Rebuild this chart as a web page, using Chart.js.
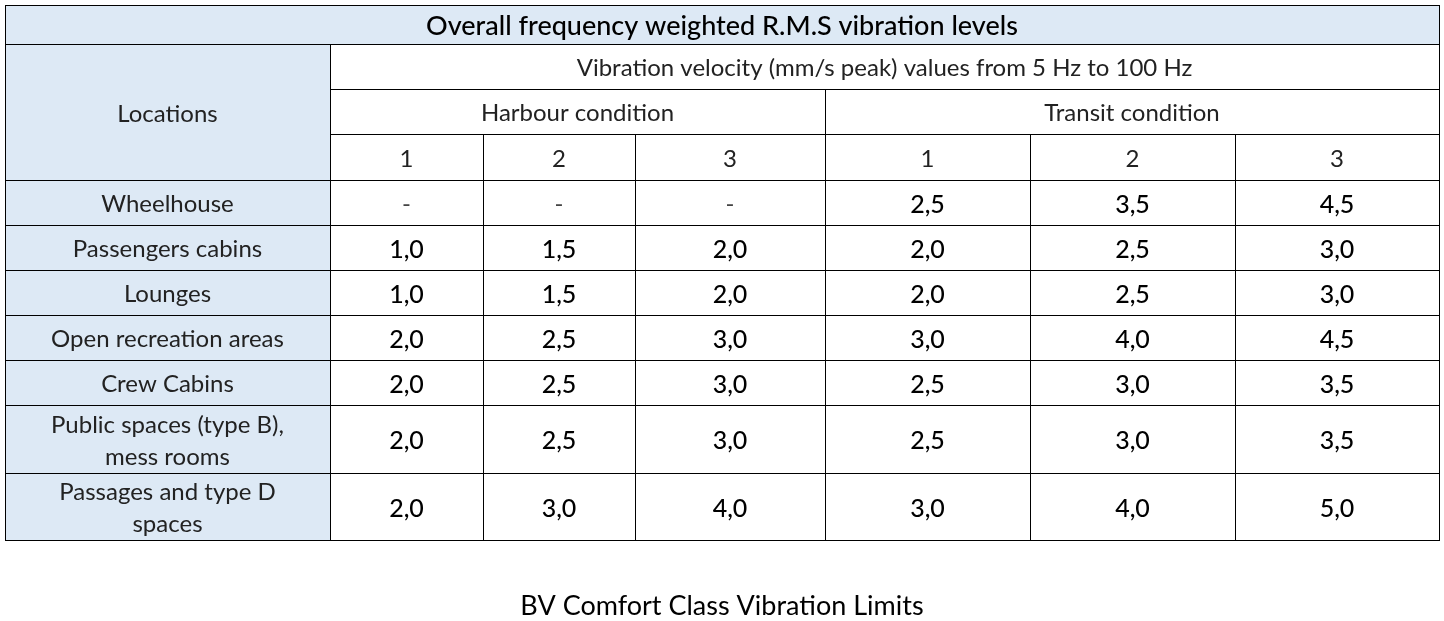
<!DOCTYPE html>
<html>
<head>
<meta charset="utf-8">
<script src="https://cdn.jsdelivr.net/npm/chart.js@4/dist/chart.umd.min.js"></script>
<style>
  body { margin: 0; background: #fff; }
  #wrap { width: 1444px; height: 621px; }
</style>
</head>
<body>
<div id="wrap"><canvas id="table"></canvas></div>
<script>
// data
let tableTitle = "Overall frequency weighted R.M.S vibration levels";
let groupTitle = "Vibration velocity (mm/s peak) values from 5 Hz to 100 Hz";
let conditions = ["Harbour condition", "Transit condition"];
let classes = ["1", "2", "3"];
let locations = ["Wheelhouse", "Passengers cabins", "Lounges", "Open recreation areas", "Crew Cabins",
  "Public spaces (type B),\nmess rooms", "Passages and type D\nspaces"];
let harbour = [
  ["-", "-", "-"],
  ["1,0", "1,5", "2,0"],
  ["1,0", "1,5", "2,0"],
  ["2,0", "2,5", "3,0"],
  ["2,0", "2,5", "3,0"],
  ["2,0", "2,5", "3,0"],
  ["2,0", "3,0", "4,0"]
];
let transit = [
  ["2,5", "3,5", "4,5"],
  ["2,0", "2,5", "3,0"],
  ["2,0", "2,5", "3,0"],
  ["3,0", "4,0", "4,5"],
  ["2,5", "3,0", "3,5"],
  ["2,5", "3,0", "3,5"],
  ["3,0", "4,0", "5,0"]
];
let caption = "BV Comfort Class Vibration Limits";

// layout (grid lines in page units)
let colEdges = [5, 330, 483, 635, 825, 1030, 1235, 1439];
let rowEdges = [5, 44, 89, 134, 180, 225, 270, 315, 360, 405, 473, 540];
let headFill = "#dde9f5";
let font = "Lato, 'Open Sans', sans-serif";

let tablePlugin = {
  id: "tablePlugin",
  afterDraw(chart) {
    let ctx = chart.ctx;
    let sx = chart.scales.x, sy = chart.scales.y;
    let X = i => sx.getPixelForValue(colEdges[i]);
    let Y = i => sy.getPixelForValue(rowEdges[i]);

    function cell(c0, c1, r0, r1, text, opts) {
      opts = opts || {};
      let x0 = X(c0), x1 = X(c1), y0 = Y(r0), y1 = Y(r1);
      if (opts.fill) { ctx.fillStyle = opts.fill; ctx.fillRect(x0, y0, x1 - x0, y1 - y0); }
      ctx.strokeStyle = opts.border || "#000";
      ctx.lineWidth = 1;
      ctx.strokeRect(Math.round(x0) + 0.5, Math.round(y0) + 0.5, Math.round(x1 - x0), Math.round(y1 - y0));
      if (text === undefined) return;
      ctx.fillStyle = opts.color || "#222";
      ctx.font = (opts.weight || "normal") + " " + (opts.size || 24) + "px " + font;
      ctx.textAlign = "center";
      ctx.textBaseline = "middle";
      let lines = text.split("\n");
      let lh = 32;
      let cy = (y0 + y1) / 2 - (lines.length - 1) * lh / 2 + 2;
      lines.forEach((l, k) => ctx.fillText(l, (x0 + x1) / 2, cy + k * lh));
    }

    cell(0, 7, 0, 1, tableTitle, { fill: headFill, color: "#000", size: 27, weight: "500" });
    cell(0, 1, 1, 4, "Locations", { fill: headFill });
    cell(1, 7, 1, 2, groupTitle);
    cell(1, 4, 2, 3, conditions[0]);
    cell(4, 7, 2, 3, conditions[1]);
    for (let j = 0; j < 6; j++) cell(1 + j, 2 + j, 3, 4, classes[j % 3]);
    locations.forEach((loc, r) => {
      cell(0, 1, 4 + r, 5 + r, loc, { fill: headFill });
      let vals = harbour[r].concat(transit[r]);
      vals.forEach((v, j) => cell(1 + j, 2 + j, 4 + r, 5 + r, v,
        v === "-" ? { color: "#444" } : { color: "#000", size: 25, weight: "500" }));
    });

    ctx.fillStyle = "#000";
    ctx.font = "normal 27px " + font;
    ctx.textAlign = "center";
    ctx.textBaseline = "middle";
    ctx.fillText(caption, sx.getPixelForValue(722), sy.getPixelForValue(606));
  }
};

new Chart("table", {
  type: "scatter",
  data: { datasets: [] },
  options: {
    responsive: true,
    maintainAspectRatio: false,
    animation: false,
    layout: { padding: 0 },
    plugins: { legend: { display: false }, tooltip: { enabled: false } },
    scales: {
      x: { type: "linear", min: 0, max: 1444, display: false },
      y: { type: "linear", min: 0, max: 621, reverse: true, display: false }
    }
  },
  plugins: [tablePlugin]
});
</script>
</body>
</html>
